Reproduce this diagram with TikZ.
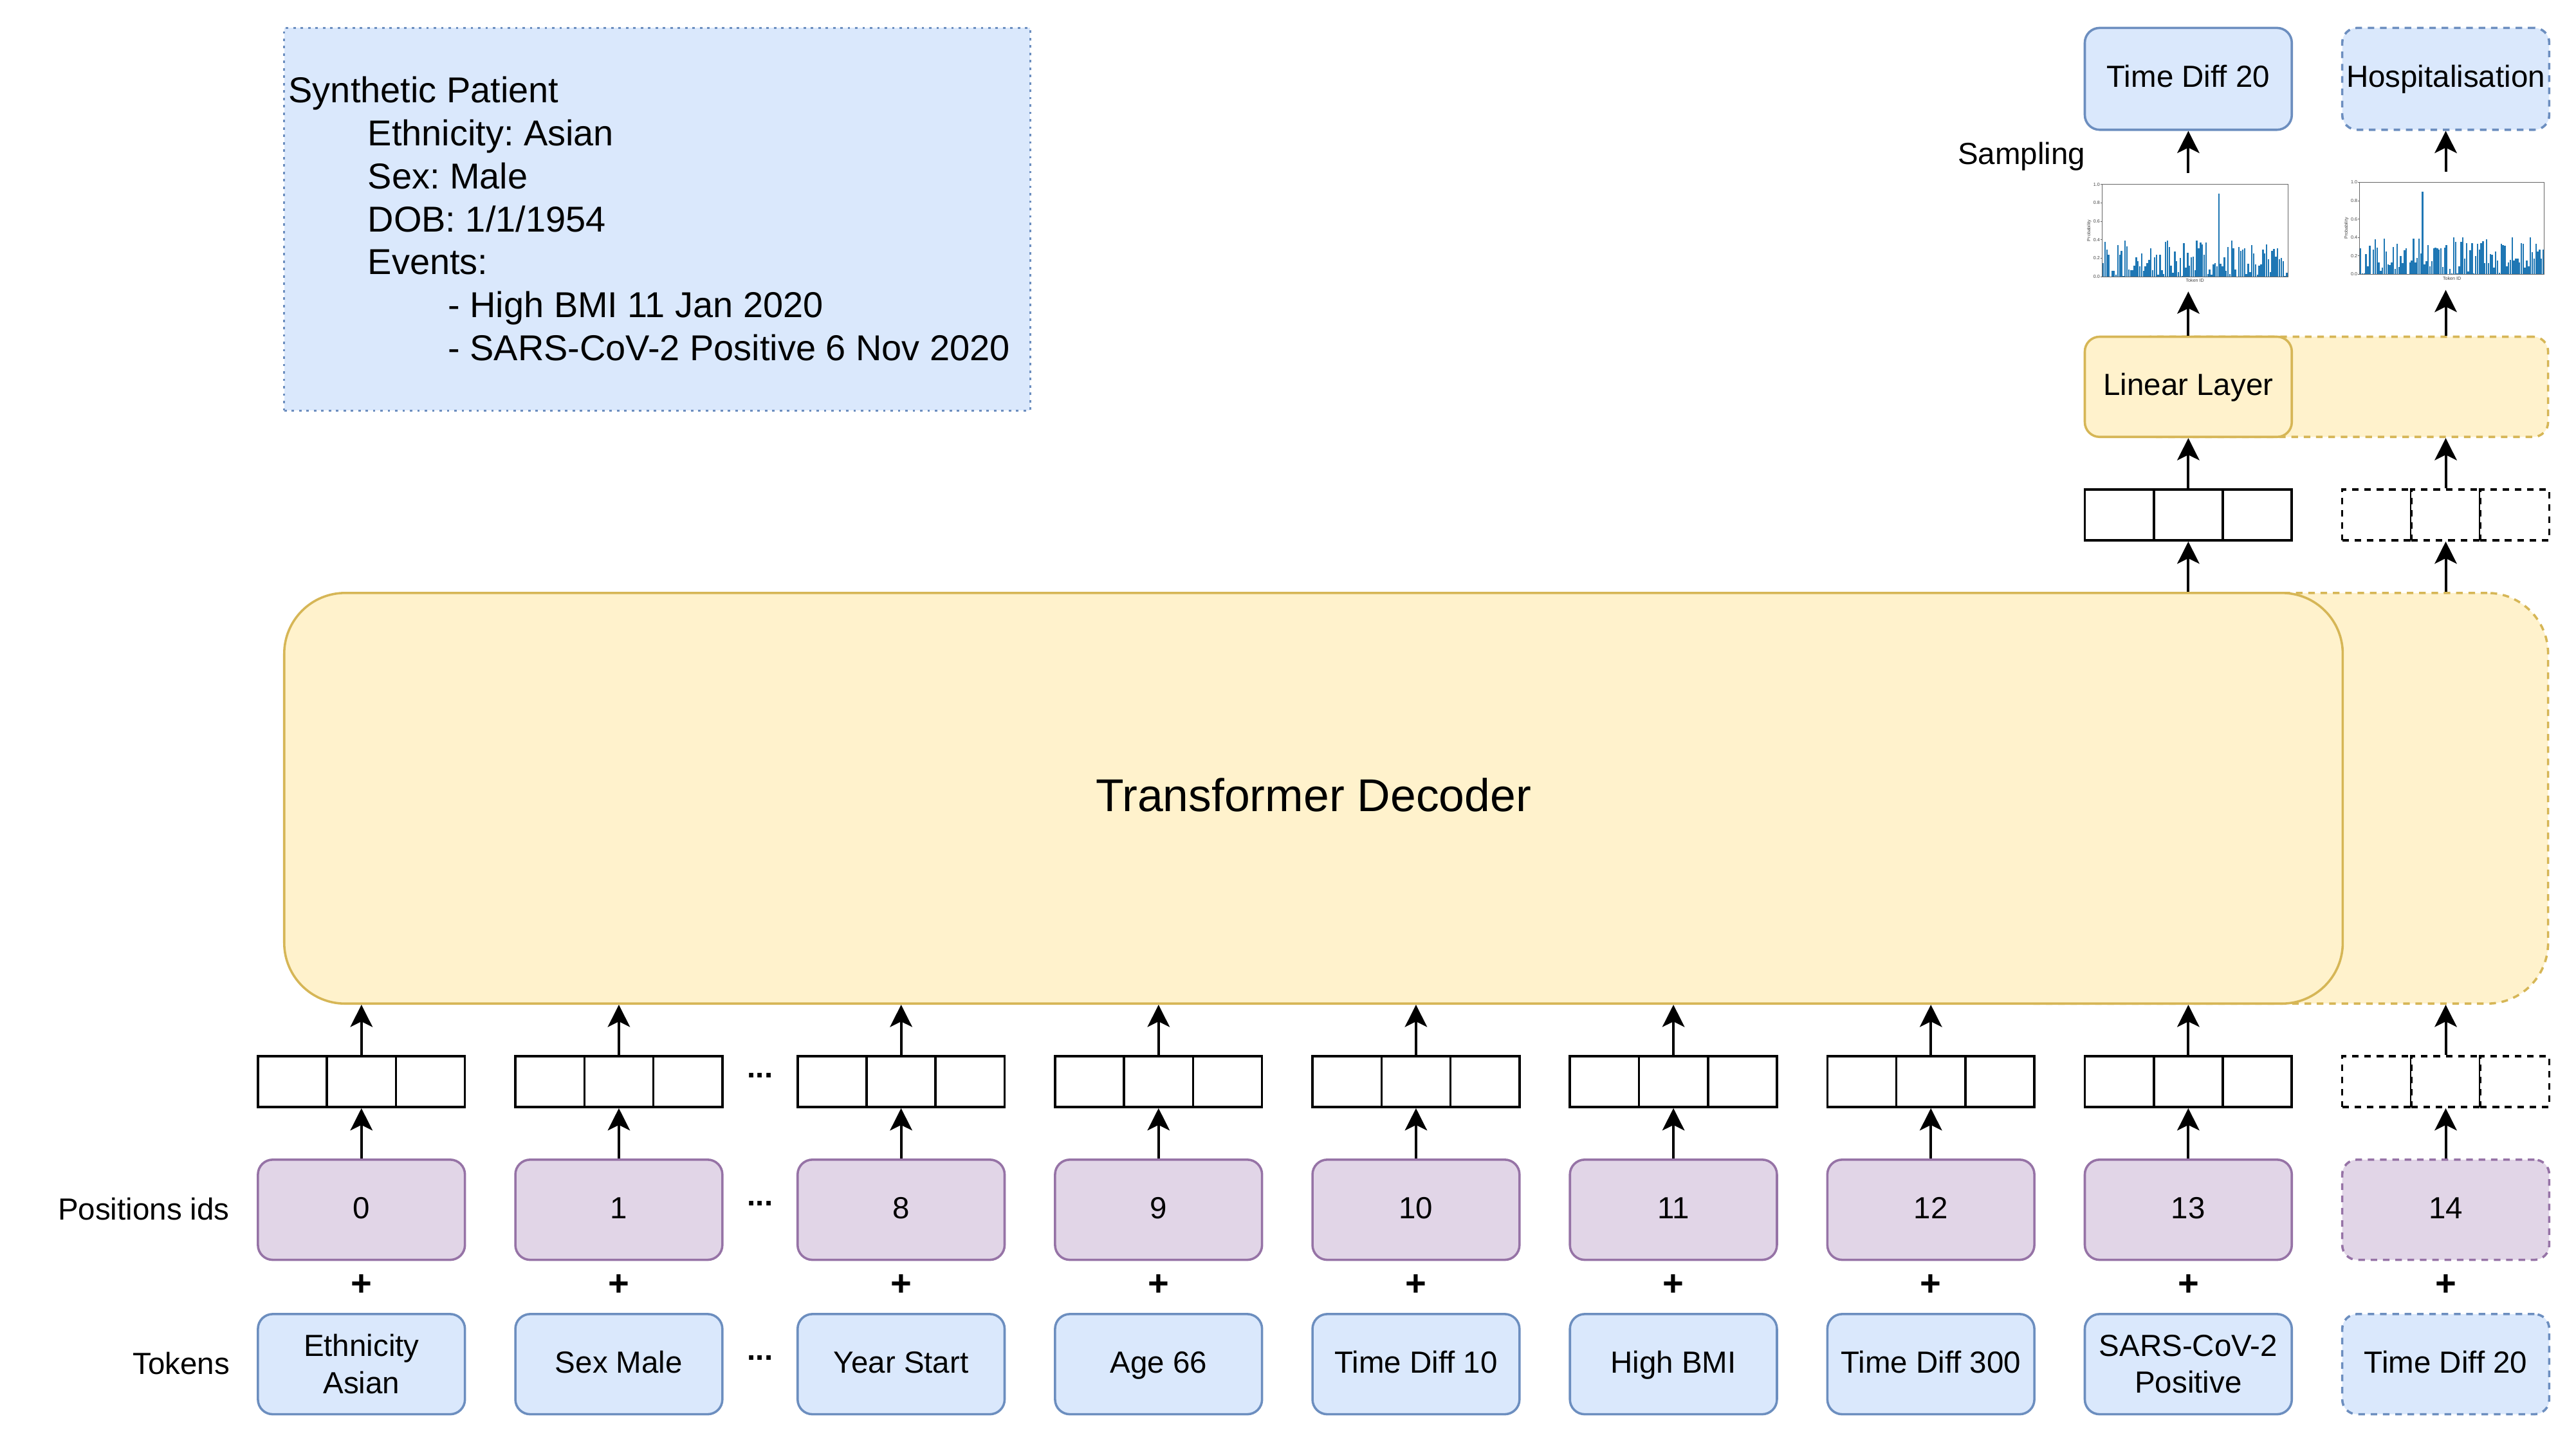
\documentclass[tikz,border=0pt]{standalone}
\usepackage{fontspec}
\setmainfont{Liberation Sans}
\usetikzlibrary{arrows.meta}
\frenchspacing
\definecolor{bluefill}{HTML}{DAE8FC}
\definecolor{bluedraw}{HTML}{6C8EBF}
\definecolor{purpfill}{HTML}{E1D5E7}
\definecolor{purpdraw}{HTML}{9673A6}
\definecolor{yelfill}{HTML}{FFF2CC}
\definecolor{yeldraw}{HTML}{D6B656}
\definecolor{barblue}{HTML}{1F77B4}
\newcommand\tokfont{\fontsize{18.6}{22.6}\selectfont}
\newcommand\drawbarchart[5]{%
  \pgfmathsetmacro\bcslot{(#2-#1)/101}%
  \foreach \bh [count=\bi] in {#5} {%
    \fill[barblue] ({#1+(\bi-0.925)*\bcslot},#4) rectangle ++({0.85*\bcslot},{-\bh*(#4-#3)});
  }%
  \draw[axisline] (#1,#3) rectangle (#2,#4);
  \foreach \tv in {0.0,0.2,0.4,0.6,0.8,1.0} {%
    \draw[axisline] (#1,{#4-\tv*(#4-#3)}) -- ++(-0.9,0) node[ticklab,anchor=east] {\tv};
  }%
  \node[ticklab,rotate=90] at ({#1-8},{(#3+#4)/2}) {Probability};
  \node[ticklab,anchor=north] at ({(#1+#2)/2},{#4+0.8}) {Token ID};
}
\begin{document}
\begin{tikzpicture}[x=1pt,y=-1pt,
  axisline/.style={draw=black!60, line width=0.3pt},
  ticklab/.style={font=\fontsize{2.8}{3}\selectfont, text=black!75, inner sep=0.4pt},
  rbox/.style={rectangle, rounded corners=9pt, line width=1.4pt, minimum width=126pt,
    minimum height=61pt, inner sep=0pt, font=\tokfont, align=center},
  tokbox/.style={rbox, draw=bluedraw, fill=bluefill},
  posbox/.style={rbox, draw=purpdraw, fill=purpfill},
  linbox/.style={rbox, draw=yeldraw, fill=yelfill},
  one/.style={text height=14.1pt, text depth=3.7pt},
  dsh/.style={dash pattern=on 4pt off 3.5pt},
  vcell/.style={rectangle, draw=black, fill=white, line width=1.4pt, minimum width=42pt,
    minimum height=31pt, inner sep=0pt},
  decbox/.style={rectangle, rounded corners=37pt, draw=yeldraw, fill=yelfill, line width=1.4pt,
    minimum height=250pt, inner sep=0pt},
  plus/.style={anchor=base, inner sep=0pt, font=\fontsize{22}{26}\selectfont\bfseries},
  dots/.style={anchor=base, inner sep=0pt, font=\tokfont\bfseries},
  lab/.style={anchor=base east, inner sep=0pt, font=\tokfont},
  arr/.style={draw=black, line width=1.6pt, -{Stealth[length=13.5pt, width=13.5pt, inset=3.3pt]}}
]
\useasboundingbox (0,0) rectangle (1568,880);

% synthetic patient
\node[draw=bluedraw, fill=bluefill, line width=1.2pt, dash pattern=on 1.5pt off 3pt,
  minimum width=454pt, minimum height=233pt, inner sep=0pt] (synbox) at (400,133.5) {};
\node[anchor=north west, inner sep=0pt, align=left, font=\fontsize{21.9}{26.15}\selectfont]
  (syntext) at (175.5,46.5) {Synthetic Patient\\
  \hspace*{48.2pt}Ethnicity: Asian\\
  \hspace*{48.2pt}Sex: Male\\
  \hspace*{48.2pt}DOB: 1/1/1954\\
  \hspace*{48.2pt}Events:\\
  \hspace*{97pt}- High BMI 11 Jan 2020\\
  \hspace*{97pt}- SARS-CoV-2 Positive 6 Nov 2020};

% decoder
\node[decbox, dsh, minimum width=351pt] (decext) at (1375.5,486) {};
\node[decbox, minimum width=1253pt, font=\fontsize{28}{33}\selectfont,
  text height=21.3pt, text depth=5.6pt] (dec) at (799.5,486) {Transformer Decoder};

% linear layer
\node[linbox, dsh, minimum width=251pt] (linext) at (1425.5,235.5) {};
\node[linbox, one] (lin) at (1332,235.5) {Linear Layer};

% top outputs
\node[tokbox, one, minimum height=62pt] (out1) at (1332,48) {Time Diff 20};
\node[tokbox, one, dsh, minimum height=62pt] (out2) at (1488.7,48) {Hospitalisation};
\node[lab] (samp) at (1269.5,100) {Sampling};

% charts
\drawbarchart{1279.6}{1392.5}{112.3}{168.4}{0.15,0.38,0.29,0.24,0.00,0.06,0.06,0.02,0.34,0.24,
0.28,0.01,0.39,0.33,0.08,0.07,0.07,0.12,0.21,0.17,
0.11,0.25,0.06,0.11,0.15,0.18,0.31,0.07,0.21,0.24,
0.02,0.24,0.07,0.03,0.38,0.39,0.32,0.12,0.04,0.27,
0.17,0.05,0.20,0.01,0.36,0.10,0.26,0.12,0.21,0.22,
0.07,0.39,0.31,0.37,0.35,0.24,0.37,0.03,0.08,0.02,
0.13,0.15,0.11,0.90,0.14,0.11,0.21,0.06,0.32,0.03,
0.39,0.31,0.08,0.00,0.32,0.28,0.29,0.31,0.03,0.14,
0.05,0.34,0.25,0.13,0.02,0.12,0.13,0.29,0.25,0.35,
0.19,0.05,0.28,0.30,0.22,0.31,0.19,0.20,0.17,0.01,0.04}
\drawbarchart{1436.3}{1548.6}{111}{167}{0.28,0.01,0.01,0.22,0.09,0.31,0.00,0.27,0.38,0.29,
0.13,0.04,0.07,0.39,0.25,0.11,0.10,0.13,0.30,0.06,
0.33,0.08,0.20,0.12,0.26,0.28,0.00,0.13,0.15,0.39,
0.13,0.18,0.39,0.23,0.90,0.11,0.14,0.32,0.09,0.14,
0.28,0.29,0.28,0.27,0.28,0.08,0.29,0.32,0.00,0.06,
0.01,0.40,0.35,0.01,0.09,0.35,0.40,0.17,0.34,0.03,
0.26,0.34,0.01,0.20,0.33,0.27,0.34,0.36,0.12,0.38,
0.12,0.22,0.21,0.07,0.25,0.15,0.02,0.33,0.32,0.31,
0.09,0.13,0.16,0.40,0.15,0.17,0.17,0.13,0.34,0.33,
0.07,0.15,0.09,0.40,0.24,0.17,0.33,0.25,0.27,0.17,0.27}
\coordinate (c1bot) at (1332,177.5);
\coordinate (c1top) at (1332,105.5);
\coordinate (c2bot) at (1488.7,176.5);
\coordinate (c2top) at (1488.7,104.5);

% top vectors
\node[vcell] (u7a) at (1290,313.5) {};
\node[vcell] (u7b) at (1332,313.5) {};
\node[vcell] (u7c) at (1374,313.5) {};
\node[vcell, dsh] (u8a) at (1446.7,313.5) {};
\node[vcell, dsh] (u8b) at (1488.7,313.5) {};
\node[vcell, dsh] (u8c) at (1530.7,313.5) {};

% bottom vectors
\foreach \n/\x in {0/220,1/376.7,2/548.5,3/705.2,4/861.9,5/1018.6,6/1175.3,7/1332} {
  \node[vcell] (v\n a) at (\x-42,658.5) {};
  \node[vcell] (v\n b) at (\x,658.5) {};
  \node[vcell] (v\n c) at (\x+42,658.5) {};
}
\node[vcell, dsh] (v8a) at (1446.7,658.5) {};
\node[vcell, dsh] (v8b) at (1488.7,658.5) {};
\node[vcell, dsh] (v8c) at (1530.7,658.5) {};

% position ids
\node[posbox, one] (p0) at (220,736.5) {0};
\node[posbox, one] (p1) at (376.7,736.5) {1};
\node[posbox, one] (p2) at (548.5,736.5) {8};
\node[posbox, one] (p3) at (705.2,736.5) {9};
\node[posbox, one] (p4) at (861.9,736.5) {10};
\node[posbox, one] (p5) at (1018.6,736.5) {11};
\node[posbox, one] (p6) at (1175.3,736.5) {12};
\node[posbox, one] (p7) at (1332,736.5) {13};
\node[posbox, one, dsh] (p8) at (1488.7,736.5) {14};

% tokens
\node[tokbox] (t0) at (220,830.5) {Ethnicity\\Asian};
\node[tokbox, one] (t1) at (376.7,830.5) {Sex Male};
\node[tokbox, one] (t2) at (548.5,830.5) {Year Start};
\node[tokbox, one] (t3) at (705.2,830.5) {Age 66};
\node[tokbox, one] (t4) at (861.9,830.5) {Time Diff 10};
\node[tokbox, one] (t5) at (1018.6,830.5) {High BMI};
\node[tokbox, one] (t6) at (1175.3,830.5) {Time Diff 300};
\node[tokbox] (t7) at (1332,830.5) {SARS-CoV-2\\Positive};
\node[tokbox, one, dsh] (t8) at (1488.7,830.5) {Time Diff 20};

% plus signs
\foreach \n/\x in {0/220,1/376.7,2/548.5,3/705.2,4/861.9,5/1018.6,6/1175.3,7/1332,8/1488.7} {
  \node[plus] (pl\n) at (\x,789) {+};
}

% dots
\node[dots] (d1) at (462.7,656.3) {...};
\node[dots] (d2) at (462.7,733.9) {...};
\node[dots] (d3) at (462.7,828.1) {...};

% labels
\node[lab] (lpos) at (139.9,742.7) {Positions ids};
\node[lab] (ltok) at (139.9,836.5) {Tokens};

% arrows bottom
\foreach \n in {0,1,2,3,4,5,6,7} {
  \draw[arr] (p\n.north) -- (v\n b.south);
  \draw[arr] (v\n b.north) -- (v\n b.north |- dec.south);
}
\draw[arr] (p8.north) -- (v8b.south);
\draw[arr] (v8b.north) -- (v8b.north |- decext.south);

% arrows top
\draw[arr] (u7b.south |- dec.north) -- (u7b.south);
\draw[arr] (u8b.south |- decext.north) -- (u8b.south);
\draw[arr] (u7b.north) -- (lin.south);
\draw[arr] (u8b.north) -- (u8b.north |- linext.south);
\draw[arr] (lin.north) -- (c1bot);
\draw[arr] (c2bot |- linext.north) -- (c2bot);
\draw[arr] (c1top) -- (out1.south);
\draw[arr] (c2top) -- (out2.south);
\end{tikzpicture}
\end{document}
